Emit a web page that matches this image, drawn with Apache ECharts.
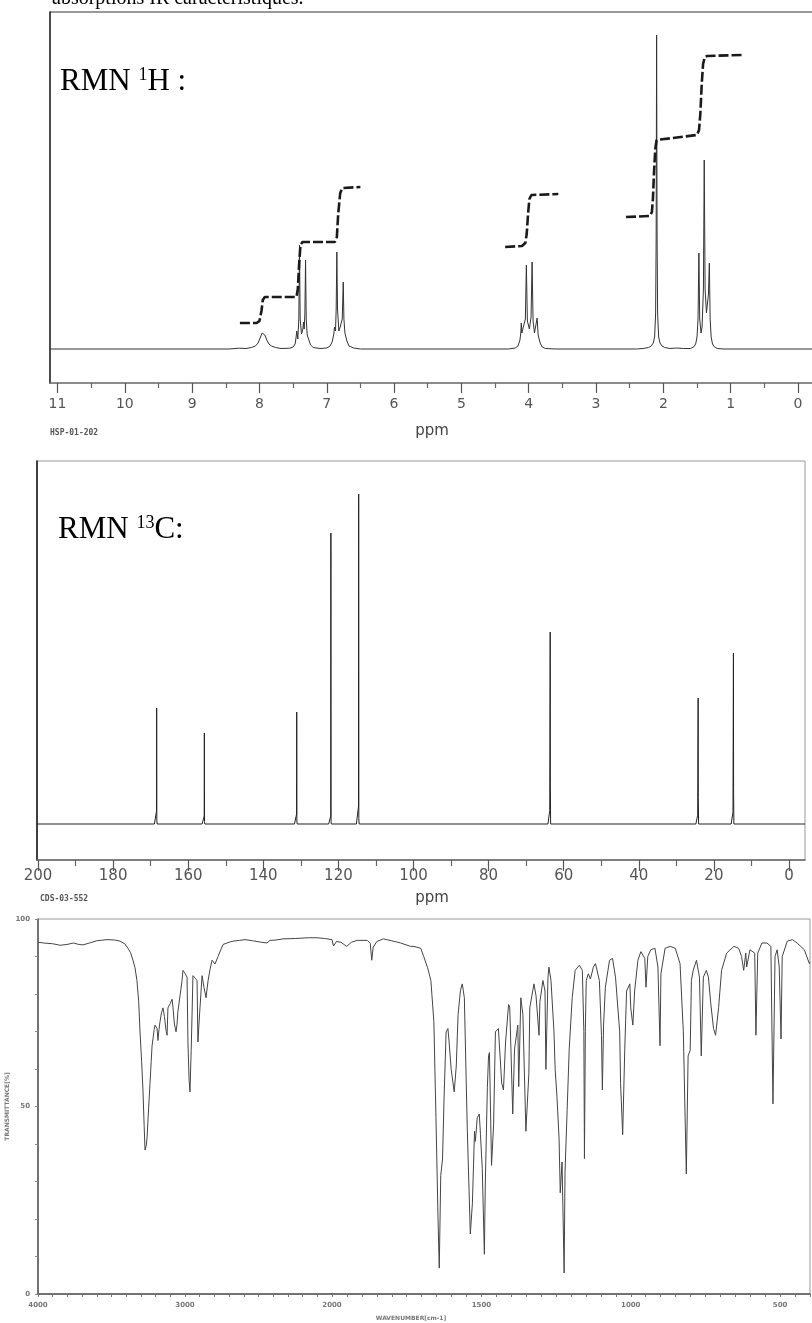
<!DOCTYPE html>
<html><head><meta charset="utf-8">
<script src="https://cdn.jsdelivr.net/npm/echarts@6/dist/echarts.min.js"></script>
<style>html,body{margin:0;padding:0;background:#fff}#c{width:812px;height:1323px}</style>
</head><body><div id="c"></div>
<script>
// ---------- 1H NMR (ppm, intensity) ----------
const hTickValues = [0,1,2,3,4,5,6,7,8,9,10,11];
const hMinorTicks = [0.5,1.5,2.5,3.5,4.5,5.5,6.5,7.5,8.5,9.5,10.5];
const hSpectrum = [
 [11.11,0],[8.45,0],[8.3,0.8],[8.2,0.5],[8.12,1.5],[8.06,3],[8.02,6],[7.99,11],[7.96,16],[7.94,17],[7.92,14],[7.89,9],[7.86,5],[7.82,3],[7.76,1.5],[7.68,0.5],[7.55,0.8],
 [7.5,2],[7.47,5],[7.455,12],[7.445,18],[7.43,10],[7.415,30],[7.405,104],[7.395,30],[7.375,15],[7.355,20],[7.345,27],[7.335,20],[7.325,35],[7.315,89],[7.305,30],[7.29,14],[7.28,16],[7.27,10],[7.24,4],[7.2,1.5],[7.1,0.5],
 [7.0,1],[6.95,3],[6.92,7],[6.895,15],[6.885,22],[6.87,18],[6.86,40],[6.85,97],[6.84,40],[6.82,18],[6.8,22],[6.785,26],[6.77,30],[6.755,67],[6.745,30],[6.73,16],[6.715,15],[6.7,8],[6.67,3],[6.6,1],[6.5,0],
 [4.3,0],[4.2,1],[4.16,3],[4.13,9],[4.118,16],[4.11,26],[4.102,16],[4.085,14],[4.05,30],[4.035,84],[4.02,28],[3.99,20],[3.965,32],[3.95,87],[3.935,28],[3.915,16],[3.89,18],[3.875,31],[3.86,14],[3.83,6],[3.8,2],[3.75,0.5],[3.6,0],
 [2.4,0],[2.3,0.5],[2.22,1.5],[2.18,3],[2.15,6],[2.13,12],[2.115,35],[2.107,110],[2.1,314],[2.093,110],[2.085,35],[2.07,12],[2.05,6],[2.02,3],[1.98,1.5],[1.9,0.5],[1.8,1],[1.7,0.5],
 [1.6,0.5],[1.55,2],[1.52,5],[1.5,12],[1.485,30],[1.472,96],[1.46,30],[1.44,16],[1.425,22],[1.405,60],[1.393,189],[1.38,60],[1.36,36],[1.345,38],[1.33,55],[1.317,86],[1.305,30],[1.29,12],[1.27,5],[1.24,2],[1.2,0.5],[1.1,0],[-0.21,0]
];
const hIntegralAromatic = [[8.29,26],[8.04,26],[8.0,28],[7.97,38],[7.95,49],[7.92,52],[7.45,52],[7.43,60],[7.41,85],[7.39,104],[7.36,107],[6.88,107],[6.85,112],[6.83,135],[6.8,156],[6.77,161],[6.5,162]];
const hIntegralOCH2 = [[4.35,102],[4.1,103],[4.05,106],[4.03,115],[4.01,135],[3.99,150],[3.96,154],[3.56,155]];
const hIntegralAliph = [[2.555,132],[2.2,133],[2.17,137],[2.155,150],[2.14,175],[2.12,200],[2.1,209],[2.08,211],[1.5,214],[1.47,219],[1.45,236],[1.43,265],[1.41,285],[1.385,292],[1.35,293],[0.83,294]];

// ---------- 13C NMR ----------
const cTickValues = [0,20,40,60,80,100,120,140,160,180,200];
const cMinorTicks = [10,30,50,70,90,110,130,150,170,190];
const cPeakPpm    = [168.4,155.7,131.1,122.0,114.6,63.6,24.2,14.8];
const cPeakHeight = [116,91,112,291,330,192,126,171];
const cPeakInner  = [13,8,10,8,18,134,88,119];

// ---------- IR (wavenumber cm-1, transmittance %) ----------
const irTicksLeft = [4000,3000,2000];
const irTicksRight = [1500,1000,500];
const irYLabels = [0,50,100];
const irSpectrum = [
 [4000,93.8],[3960,93.6],[3900,93.4],[3850,93.0],[3803,93.2],[3760,93.6],[3720,93.2],[3694,93.1],[3650,93.6],[3600,94.2],[3531,94.5],[3480,94.4],[3442,94.1],[3410,93.4],[3388,92.2],[3370,91.0],[3354,89],[3340,87],[3327,83.6],[3315,78],[3306,69.9],[3295,62],[3286,54.4],[3278,45],[3272,38.4],[3264,39.5],[3258,41.6],[3251,47],[3244,52],[3238,56.2],[3230,62],[3224,66.2],[3218,68],[3210,70.5],[3204,71.7],[3197,71.3],[3190,70.8],[3184,67.6],[3177,70.5],[3170,72.6],[3160,75],[3150,76.3],[3140,74],[3128,70],[3122,69],[3116,76.3],[3100,77.5],[3088,78.6],[3082,76.5],[3072,72],[3061,69.9],[3054,72],[3048,75.4],[3034,79.5],[3020,83.6],[3014,86.3],[3000,85.5],[2986,84.5],[2980,67.2],[2972,57],[2966,53.9],[2958,65],[2952,74.5],[2946,84.9],[2930,84.2],[2918,83.6],[2912,67.2],[2905,72],[2898,76.3],[2884,84.9],[2871,81.8],[2857,79],[2843,83.6],[2830,86.5],[2816,89],[2796,88],[2775,90],[2760,91.5],[2741,93.2],[2700,93.8],[2673,94.1],[2630,94.3],[2592,94.5],[2540,94.2],[2480,93.8],[2442,93.6],[2422,94.3],[2380,94.4],[2333,94.7],[2250,94.8],[2160,95.0],[2102,95.0],[2050,94.8],[2000,94.5],
 [1995,92.8],[1985,94.0],[1970,93.8],[1951,92.7],[1935,93.8],[1916,94.3],[1882,94.3],[1872,93.5],[1867,89],[1862,92.5],[1850,94.0],[1828,94.7],[1800,94.2],[1770,93.6],[1737,92.7],[1726,92.7],[1703,92.2],[1693,90],[1680,87],[1669,83.6],[1659,72.6],[1652,47],[1645,19.7],[1641,6.9],[1636,31.6],[1630,36],[1625,52],[1618,69.9],[1612,70.8],[1608,67.2],[1601,59.9],[1591,53.9],[1584,60.8],[1578,74.5],[1570,81],[1564,82.7],[1557,79],[1547,43.4],[1537,16],[1530,24.3],[1523,43.4],[1520,40.7],[1514,47],[1507,48],[1503,42.5],[1497,33.4],[1490,10.6],[1487,28.8],[1480,55],[1476,63.5],[1473,64.4],[1466,34.3],[1459,45.3],[1453,69.9],[1443,70.8],[1432,56.2],[1426,54.4],[1419,67.2],[1409,77.2],[1405,76.5],[1395,48],[1389,65.3],[1378,71.7],[1375,55.3],[1368,79],[1361,74.5],[1351,43.4],[1341,58.9],[1338,76.3],[1324,82.7],[1317,79.5],[1307,69],[1304,78],[1294,83.6],[1287,80.8],[1284,59.9],[1277,84.5],[1274,87.2],[1267,83.6],[1257,69.9],[1253,59.9],[1247,52.6],[1240,41.6],[1236,27],[1230,35.2],[1223,5.6],[1220,32.5],[1213,48.9],[1206,65.3],[1196,79],[1186,86.3],[1172,87.7],[1162,86.3],[1157,70],[1155,36.1],[1152,70],[1149,83.6],[1142,85.4],[1135,84],[1125,87.2],[1118,88.1],[1105,83.6],[1098,69],[1095,54.4],[1091,71.7],[1085,81.8],[1071,89],[1061,89.5],[1051,84.5],[1037,69.9],[1034,56.2],[1027,42.5],[1020,65.3],[1014,80.8],[1003,82.7],[1000,76.3],[993,71.7],[987,80.8],[976,89],[966,91.3],[953,89.5],[949,81.8],[943,90],[933,91.8],[919,92.2],[909,87.2],[902,66.2],[899,85.4],[885,92.2],[868,92.7],[851,92.2],[835,88.1],[824,69.9],[818,47],[814,32],[808,63.5],[801,65],[797,83.6],[791,86.3],[780,89],[770,84.5],[764,63.5],[757,84.5],[747,86.3],[740,84.5],[733,78.1],[723,70.8],[716,69],[706,76.3],[696,86.3],[679,90.9],[655,92.7],[639,92.2],[629,90],[622,86.3],[615,90.9],[612,87.2],[601,91.8],[595,92.2],[585,90.9],[581,69],[575,90.9],[561,93.6],[544,93.6],[531,92.7],[524,50.7],[517,90],[510,91.8],[503,87.2],[497,68],[493,90],[476,94.1],[459,94.5],[443,93.6],[419,91.8],[402,88.1],[400,88.5]
];

// ---------- build series data ----------
const cSpectrum = [[200.27,0]];
cPeakPpm.forEach((p,i)=>{
  cSpectrum.push([p+0.6,0],[p+0.12,cPeakInner[i]*0.1],[p+0.04,cPeakInner[i]],[p,cPeakHeight[i]],[p-0.04,cPeakInner[i]*0.3],[p-0.12,0],[p-0.6,0]);
});
cSpectrum.push([-4.26,0]);
const irLeft = irSpectrum.filter(d=>d[0]>=2000);
const irRight = irSpectrum.filter(d=>d[0]<=2000);
const range = (a,b,s)=>{const r=[];for(let v=a;v<=b+1e-9;v+=s)r.push(Math.round(v*100)/100);return r;};
const plain = v => String(v);

function nmrX(grid,min,max,major,minor,fs,majLen,minLen,margin){
  return [
   {gridIndex:grid,type:'value',min:min,max:max,inverse:true,position:'bottom',
    axisLine:{show:true,onZero:false,lineStyle:{color:'#666',width:1.5}},
    axisTick:{show:true,customValues:major,length:majLen,lineStyle:{color:'#555',width:1.2}},
    axisLabel:{show:true,customValues:major,margin:margin,formatter:plain,fontFamily:'DejaVu Sans',fontSize:fs,color:'#555'},
    splitLine:{show:false}},
   {gridIndex:grid,type:'value',min:min,max:max,inverse:true,position:'bottom',
    axisLine:{show:false,onZero:false},
    axisTick:{show:true,customValues:minor,length:minLen,lineStyle:{color:'#666',width:1.2}},
    axisLabel:{show:false},splitLine:{show:false}}
  ];
}
const irLabel = {fontFamily:'DejaVu Sans', fontSize:7, fontWeight:'bold', color:'#777', formatter:plain};

const option = {
 animation:false,
 grid:[
  {left:50,top:12,width:762,height:371},
  {left:37,top:461,width:768,height:399,show:true,borderColor:'#999',borderWidth:1},
  {left:38,top:919,width:294,height:375},
  {left:332,top:919,width:478,height:375}
 ],
 xAxis:[
  ...nmrX(0,-0.208,11.111,hTickValues,hMinorTicks,14,10,5,14),
  ...nmrX(1,-4.26,200.27,cTickValues,cMinorTicks,15,11,6,9),
  {gridIndex:2,type:'value',min:2000,max:4000,inverse:true,position:'bottom',
   axisLine:{show:true,onZero:false,lineStyle:{color:'#555',width:1.5}},
   axisTick:{show:true,customValues:range(2000,4000,100),length:3,lineStyle:{color:'#777'}},
   axisLabel:Object.assign({show:true,customValues:irTicksLeft,margin:8},irLabel),splitLine:{show:false}},
  {gridIndex:3,type:'value',min:400,max:2000,inverse:true,position:'bottom',
   axisLine:{show:true,onZero:false,lineStyle:{color:'#555',width:1.5}},
   axisTick:{show:true,customValues:range(400,2000,50),length:3,lineStyle:{color:'#777'}},
   axisLabel:Object.assign({show:true,customValues:irTicksRight,margin:8},irLabel),splitLine:{show:false}}
 ],
 yAxis:[
  {gridIndex:0,type:'value',min:-34,max:337,axisLine:{show:true,onZero:false,lineStyle:{color:'#111',width:1.5}},axisTick:{show:false},axisLabel:{show:false},splitLine:{show:false}},
  {gridIndex:1,type:'value',min:-36,max:363,axisLine:{show:true,onZero:false,lineStyle:{color:'#111',width:1.5}},axisTick:{show:false},axisLabel:{show:false},splitLine:{show:false}},
  {gridIndex:2,type:'value',min:0,max:100,
   name:'TRANSMITTANCE[%]',nameLocation:'middle',nameRotate:90,nameGap:28,
   nameTextStyle:{fontFamily:'DejaVu Sans',fontSize:6,fontWeight:'bold',color:'#777'},
   axisLine:{show:true,onZero:false,lineStyle:{color:'#555',width:1.5}},
   axisTick:{show:true,customValues:range(0,100,10),length:3,lineStyle:{color:'#888'}},
   axisLabel:Object.assign({show:true,customValues:irYLabels,margin:8},irLabel),splitLine:{show:false}},
  {gridIndex:3,type:'value',min:0,max:100,show:false}
 ],
 series:[
  {type:'line',xAxisIndex:0,yAxisIndex:0,data:hSpectrum,symbol:'none',smooth:false,lineStyle:{color:'#333',width:1},silent:true},
  {type:'line',xAxisIndex:0,yAxisIndex:0,data:hIntegralAromatic,symbol:'none',lineStyle:{color:'#1a1a1a',width:2.6,type:[10,3]},silent:true},
  {type:'line',xAxisIndex:0,yAxisIndex:0,data:hIntegralOCH2,symbol:'none',lineStyle:{color:'#1a1a1a',width:2.6,type:[10,3]},silent:true},
  {type:'line',xAxisIndex:0,yAxisIndex:0,data:hIntegralAliph,symbol:'none',lineStyle:{color:'#1a1a1a',width:2.6,type:[10,3]},silent:true},
  {type:'line',xAxisIndex:2,yAxisIndex:1,data:cSpectrum,symbol:'none',smooth:false,lineStyle:{color:'#222',width:1},silent:true},
  {type:'line',xAxisIndex:4,yAxisIndex:2,data:irLeft,symbol:'none',lineStyle:{color:'#444',width:1},silent:true},
  {type:'line',xAxisIndex:5,yAxisIndex:3,data:irRight,symbol:'none',lineStyle:{color:'#444',width:1},silent:true}
 ],
 graphic:[
  {type:'text',style:{text:'absorptions IR caractéristiques.',x:52,y:9,verticalAlign:'bottom',font:'20px "Liberation Serif"',fill:'#000'}},
  {type:'line',shape:{x1:50,y1:12,x2:812,y2:12},style:{stroke:'#999',lineWidth:2}},
  {type:'text',style:{text:'{a|RMN }{s|1}{a|H :}',x:60,y:82,verticalAlign:'middle',
    rich:{a:{fontFamily:'Liberation Serif',fontSize:31,fill:'#000'},s:{fontFamily:'Liberation Serif',fontSize:18,fill:'#000',verticalAlign:'top'}}}},
  {type:'text',style:{text:'{a|RMN }{s|13}{a|C:}',x:58,y:530,verticalAlign:'middle',
    rich:{a:{fontFamily:'Liberation Serif',fontSize:31,fill:'#000'},s:{fontFamily:'Liberation Serif',fontSize:18,fill:'#000',verticalAlign:'top'}}}},
  {type:'text',style:{text:'HSP-01-202',x:50,y:433,verticalAlign:'middle',font:'bold 8px "DejaVu Sans Mono"',fill:'#555'}},
  {type:'text',style:{text:'ppm',x:432,y:431,align:'center',verticalAlign:'middle',font:'15px "DejaVu Sans"',fill:'#444'}},
  {type:'text',style:{text:'CDS-03-552',x:40,y:899,verticalAlign:'middle',font:'bold 8px "DejaVu Sans Mono"',fill:'#555'}},
  {type:'text',style:{text:'ppm',x:432,y:898,align:'center',verticalAlign:'middle',font:'15px "DejaVu Sans"',fill:'#444'}},
  {type:'rect',shape:{x:38,y:919,width:772,height:375},style:{fill:'none',stroke:'#999',lineWidth:1},z:-1},
  {type:'text',style:{text:'WAVENUMBER[cm-1]',x:411,y:1318,align:'center',verticalAlign:'middle',font:'bold 6px "DejaVu Sans"',fill:'#777'}}
 ]
};
const chart = echarts.init(document.getElementById('c'));
chart.setOption(option);
</script></body></html>
